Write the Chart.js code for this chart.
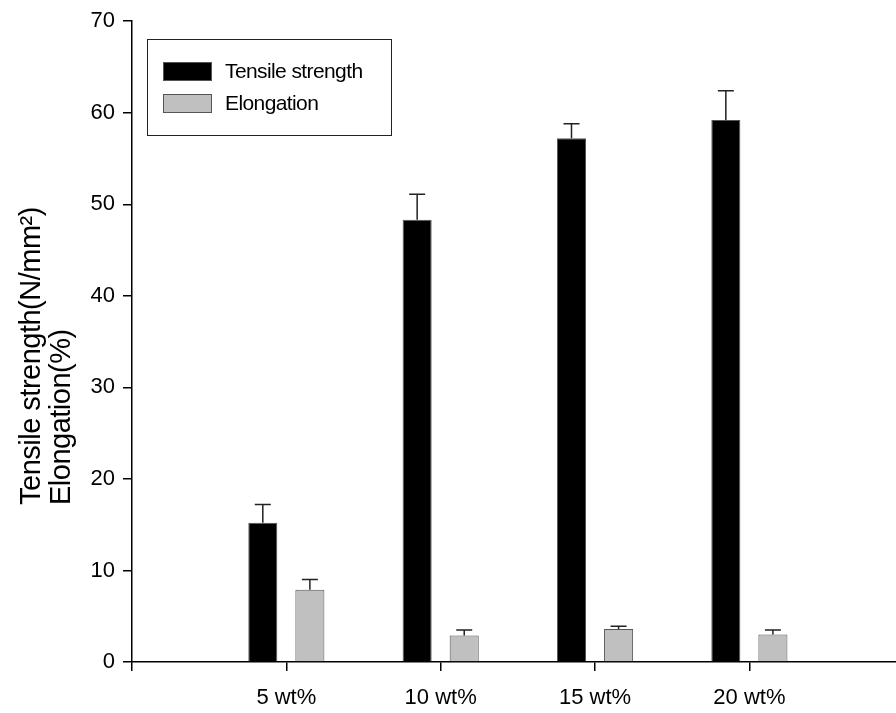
<!DOCTYPE html>
<html>
<head>
<meta charset="utf-8">
<script src="https://cdn.jsdelivr.net/npm/chart.js@4.4.0/dist/chart.umd.min.js"></script>
<style>
    html, body { margin: 0; padding: 0; background: #fff; }
    canvas { display: block; }
</style>
</head>
<body>
<canvas id="chart" width="896" height="713"></canvas>
<script>
// 数据
const categories = ['5 wt%', '10 wt%', '15 wt%', '20 wt%'];
const tensileStrength = [15.2, 48.3, 57.2, 59.2];
const tensileError = [2.0, 2.8, 1.6, 3.2];
const elongation = [7.9, 2.9, 3.6, 3.0];
const elongationError = [1.1, 0.6, 0.3, 0.5];
const yTicks = [0, 10, 20, 30, 40, 50, 60, 70];
const yTitleLines = ['Tensile strength(N/mm\u00B2)', 'Elongation(%)'];

const FONT = '"Liberation Sans", Arial, sans-serif';

/**
 * 误差线（只画上半部分）
 */
const errorBarPlugin = {
    id: 'errorBars',
    afterDatasetsDraw(chart) {
        const ctx = chart.ctx;
        const yScale = chart.scales.y;
        ctx.save();
        ctx.strokeStyle = '#222';
        ctx.lineWidth = 1.5;
        chart.data.datasets.forEach((ds, di) => {
            const meta = chart.getDatasetMeta(di);
            meta.data.forEach((bar, i) => {
                const top = yScale.getPixelForValue(ds.data[i].y + ds.errors[i]);
                ctx.beginPath();
                ctx.moveTo(bar.x, bar.y);
                ctx.lineTo(bar.x, top);
                ctx.moveTo(bar.x - 8, top);
                ctx.lineTo(bar.x + 8, top);
                ctx.stroke();
            });
        });
        ctx.restore();
    }
};

/**
 * 图例（带边框，放在绘图区内）和 y 轴标题（两行左对齐）
 */
const decorPlugin = {
    id: 'decor',
    afterDraw(chart) {
        const ctx = chart.ctx;
        ctx.save();

        // 图例边框
        ctx.strokeStyle = '#222';
        ctx.lineWidth = 1;
        ctx.strokeRect(147.5, 39.5, 244, 96);

        ctx.font = '21px ' + FONT;
        ctx.letterSpacing = '-0.6px';
        ctx.textBaseline = 'middle';
        ctx.fillStyle = '#000';
        chart.data.datasets.forEach((ds, i) => {
            const y = 62 + i * 32;
            ctx.fillStyle = ds.backgroundColor;
            ctx.fillRect(163, y, 49, 19);
            ctx.strokeStyle = ds.borderColor;
            ctx.strokeRect(163.5, y + 0.5, 48, 18);
            ctx.fillStyle = '#000';
            ctx.fillText(ds.label, 225, y + 10);
        });

        // y 轴标题
        ctx.font = '29px ' + FONT;
        ctx.letterSpacing = '-0.5px';
        ctx.textBaseline = 'alphabetic';
        ctx.textAlign = 'left';
        yTitleLines.forEach((line, i) => {
            ctx.save();
            ctx.translate(40 + i * 30, 505);
            ctx.rotate(-Math.PI / 2);
            ctx.fillText(line, 0, 0);
            ctx.restore();
        });

        ctx.restore();
    }
};

const axisGrid = {
    drawOnChartArea: false,
    drawTicks: true,
    tickLength: 9,
    color: '#000',
    lineWidth: 1.5,
    offset: false
};

const ctx = document.getElementById('chart').getContext('2d');
new Chart(ctx, {
    type: 'bar',
    data: {
        datasets: [
            {
                label: 'Tensile strength',
                data: categories.map((c, i) => ({ x: i + 1, y: tensileStrength[i] })),
                errors: tensileError,
                backgroundColor: '#000000',
                borderColor: '#555555',
                borderWidth: 1,
                categoryPercentage: 0.61,
                barPercentage: 0.617
            },
            {
                label: 'Elongation',
                data: categories.map((c, i) => ({ x: i + 1, y: elongation[i] })),
                errors: elongationError,
                backgroundColor: '#c0c0c0',
                borderColor: '#555555',
                borderWidth: 1,
                categoryPercentage: 0.61,
                barPercentage: 0.617
            }
        ]
    },
    options: {
        responsive: false,
        animation: false,
        layout: { padding: { top: 21, right: 0, bottom: 0, left: 0 } },
        plugins: {
            legend: { display: false },
            tooltip: { enabled: false }
        },
        scales: {
            x: {
                type: 'linear',
                offset: false,
                min: 0,
                max: 4.95,
                afterBuildTicks: (scale) => {
                    scale.ticks = [0, 1, 2, 3, 4].map(v => ({ value: v }));
                },
                afterFit: (scale) => { scale.height = 51; },
                ticks: {
                    callback: (v) => categories[v - 1] || '',
                    color: '#000',
                    font: { family: FONT, size: 22 },
                    padding: 14,
                    maxRotation: 0,
                    autoSkip: false
                },
                grid: axisGrid,
                border: { color: '#000', width: 1.5 }
            },
            y: {
                min: 0,
                max: 70,
                afterBuildTicks: (scale) => {
                    scale.ticks = yTicks.map(v => ({ value: v }));
                },
                afterFit: (scale) => { scale.width = 132; },
                ticks: {
                    color: '#000',
                    font: { family: FONT, size: 22 },
                    padding: 8
                },
                grid: axisGrid,
                border: { color: '#000', width: 1.5 }
            }
        }
    },
    plugins: [errorBarPlugin, decorPlugin]
});
</script>
</body>
</html>
